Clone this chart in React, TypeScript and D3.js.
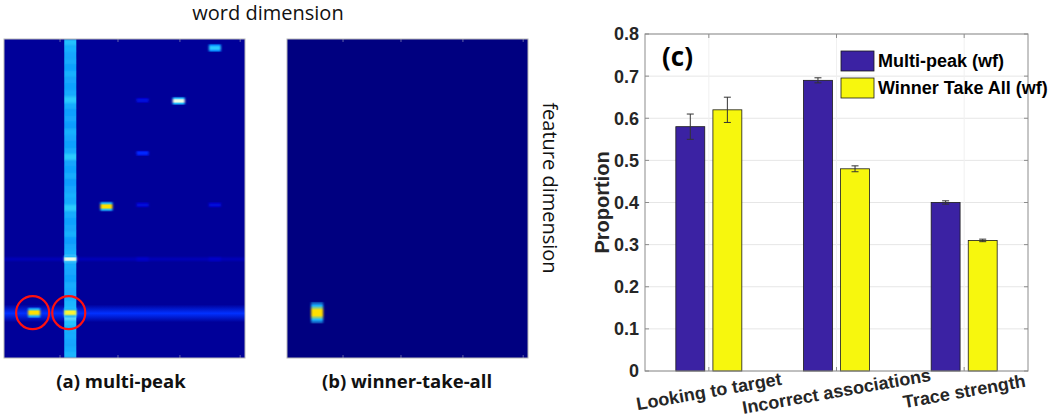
import React from "react";
import * as d3 from "d3";

// ---------- Bar chart data ----------
const categories = ["Looking to target", "Incorrect associations", "Trace strength"];
const seriesNames = ["Multi-peak (wf)", "Winner Take All (wf)"];
const multiPeak = [0.58, 0.69, 0.4];
const multiPeakErr = [0.03, 0.006, 0.004];
const winnerTakeAll = [0.62, 0.48, 0.31];
const winnerTakeAllErr = [0.03, 0.007, 0.003];
const yTicks = [0, 0.1, 0.2, 0.3, 0.4, 0.5, 0.6, 0.7, 0.8];
const seriesColors = ["#3b22a3", "#f7f70d"];

// ---------- Heatmap data ----------
const nWords = 20;
const nFeatures = 100;
const mpBackground = 0.035;
const wtaBackground = 0.0;
const mpColumnWord = 5;
// brightness of the bright word column, one value per 2 feature rows
const mpColumnProfile = [
  0.4, 0.37, 0.35, 0.36, 0.34, 0.37, 0.35, 0.34, 0.36, 0.42,
  0.36, 0.34, 0.35, 0.33, 0.37, 0.35, 0.34, 0.36, 0.42, 0.35,
  0.34, 0.36, 0.33, 0.35, 0.37, 0.36, 0.42, 0.36, 0.34, 0.35,
  0.37, 0.33, 0.35, 0.37, 0.45, 0.36, 0.35, 0.34, 0.36, 0.35,
  0.36, 0.38, 0.4, 0.45, 0.4, 0.37, 0.36, 0.35, 0.36, 0.38,
];
const mpBands = [
  { feature: 86, value: 0.21, height: 5.5 },
  { feature: 69, value: 0.08, height: 2 },
];
const mpSpots = [
  { word: 17, feature: 2.8, value: 0.42, height: 2.6 },
  { word: 14, feature: 19.4, value: 0.53, height: 2.6 },
  { word: 11, feature: 19.2, value: 0.14, height: 1.8 },
  { word: 11, feature: 35.8, value: 0.2, height: 1.8 },
  { word: 8, feature: 52.5, value: 0.64, height: 3.2 },
  { word: 11, feature: 52, value: 0.13, height: 1.8 },
  { word: 17, feature: 52, value: 0.13, height: 1.8 },
  { word: 5, feature: 69, value: 0.53, height: 2.6 },
  { word: 11, feature: 69, value: 0.1, height: 1.8 },
  { word: 17, feature: 69, value: 0.1, height: 1.8 },
  { word: 2, feature: 85.8, value: 0.64, height: 3.4 },
  { word: 5, feature: 85.8, value: 0.6, height: 3.4 },
];
const wtaSpots = [{ word: 2, feature: 85.8, value: 0.64, height: 6.8 }];
const circled = [
  { word: 2, feature: 85.8 },
  { word: 5, feature: 85.8 },
];
const heatTicks = [4.65, 9.46, 14.6, 19.6];

// jet-like colour map as rendered in the figure
const cmapStops = [0, 0.1, 0.2, 0.33, 0.42, 0.52, 0.62, 0.75, 1];
const cmapColors = ["#000080", "#0000c8", "#0028ff", "#0a9cff", "#2ccbff", "#eafcff", "#fff200", "#ff8000", "#ff0000"];
const cmap = d3.scaleLinear<string>().domain(cmapStops).range(cmapColors).clamp(true);

const W = 1050;
const H = 414;

type Spot = { word: number; feature: number; value: number; height: number };

function Heatmap(props: {
  id: string;
  x0: number;
  x1: number;
  y0: number;
  y1: number;
  background: number;
  column?: { word: number; profile: number[] };
  bands?: { feature: number; value: number; height: number }[];
  spots: Spot[];
  circles?: { word: number; feature: number }[];
}) {
  const { id, x0, x1, y0, y1, background, column, bands = [], spots, circles = [] } = props;
  const x = d3.scaleLinear().domain([0, nWords]).range([x0, x1]);
  const y = d3.scaleLinear().domain([0, nFeatures]).range([y0, y1]);
  const cw = x(1) - x(0);
  const edgeOf = (v: number) => (v >= 0.45 ? 0.38 : v * 0.75);
  return (
    <g>
      <defs>
        <clipPath id={`${id}-clip`}>
          <rect x={x0} y={y0} width={x1 - x0} height={y1 - y0} />
        </clipPath>
        <filter id={`${id}-blur`} x="-20%" y="-20%" width="140%" height="140%">
          <feGaussianBlur stdDeviation="0.8 0.6" />
        </filter>
        <filter id={`${id}-colblur`} x="-20%" y="-2%" width="140%" height="104%">
          <feGaussianBlur stdDeviation="0.6 1.0" />
        </filter>
        {bands.map((b, i) => (
          <linearGradient key={i} id={`${id}-band-${i}`} x1="0" y1="0" x2="0" y2="1">
            <stop offset="0" stopColor={cmap(background)} />
            <stop offset="0.5" stopColor={cmap(b.value)} />
            <stop offset="1" stopColor={cmap(background)} />
          </linearGradient>
        ))}
        {spots.map((s, i) => (
          <linearGradient key={i} id={`${id}-spot-${i}`} x1="0" y1="0" x2="0" y2="1">
            <stop offset="0" stopColor={cmap(edgeOf(s.value))} stopOpacity={0.3} />
            <stop offset="0.18" stopColor={cmap(edgeOf(s.value))} />
            <stop offset="0.38" stopColor={cmap(s.value)} />
            <stop offset="0.62" stopColor={cmap(s.value)} />
            <stop offset="0.82" stopColor={cmap(edgeOf(s.value))} />
            <stop offset="1" stopColor={cmap(edgeOf(s.value))} stopOpacity={0.3} />
          </linearGradient>
        ))}
      </defs>
      <rect x={x0} y={y0} width={x1 - x0} height={y1 - y0} fill={cmap(background)} />
      <g clipPath={`url(#${id}-clip)`}>
        {bands.map((b, i) => (
          <rect
            key={i}
            x={x0}
            y={y(b.feature - b.height / 2)}
            width={x1 - x0}
            height={y(b.height) - y(0)}
            fill={`url(#${id}-band-${i})`}
          />
        ))}
        {column && (
          <g filter={`url(#${id}-colblur)`}>
            {column.profile.map((v, i) => (
              <rect
                key={i}
                x={x(column.word)}
                y={y(i * 2)}
                width={cw}
                height={y(2) - y(0) + 0.4}
                fill={cmap(v)}
              />
            ))}
          </g>
        )}
        <g filter={`url(#${id}-blur)`}>
          {spots.map((s, i) => (
            <rect
              key={i}
              x={x(s.word)}
              y={y(s.feature - s.height / 2)}
              width={cw}
              height={y(s.height) - y(0)}
              fill={`url(#${id}-spot-${i})`}
            />
          ))}
        </g>
      </g>
      {heatTicks.map((t, i) => (
        <g key={i} stroke="#7a7ab0" strokeWidth={0.8}>
          <line x1={x(t)} x2={x(t)} y1={y1} y2={y1 - 3} />
          <line x1={x(t)} x2={x(t)} y1={y0} y2={y0 + 3} />
        </g>
      ))}
      <rect x={x0} y={y0} width={x1 - x0} height={y1 - y0} fill="none" stroke="#b8b8b8" strokeWidth={1} />
      {circles.map((c, i) => (
        <circle
          key={i}
          cx={x(c.word + 0.5) - 1.5}
          cy={y(c.feature)}
          r={16.5}
          fill="none"
          stroke="#ff1010"
          strokeWidth={2.2}
        />
      ))}
    </g>
  );
}

function BarChart() {
  const left = 645;
  const right = 1028;
  const top = 34;
  const bottom = 371;
  const x = d3.scaleLinear().domain([0.5, categories.length + 0.5]).range([left, right]);
  const y = d3.scaleLinear().domain([0, 0.8]).range([bottom, top]);
  const inner = d3.scaleBand<number>().domain([0, 1]).range([-33, 33]).paddingInner(0.22);
  const series = [
    { values: multiPeak, errs: multiPeakErr, color: seriesColors[0] },
    { values: winnerTakeAll, errs: winnerTakeAllErr, color: seriesColors[1] },
  ];
  const font = "'Liberation Sans', Arial, sans-serif";
  return (
    <g fontFamily={font} fontWeight="bold">
      <rect x={left} y={top} width={right - left} height={bottom - top} fill="#ffffff" />
      {yTicks.map((t) => (
        <line key={t} x1={left} x2={right} y1={y(t)} y2={y(t)} stroke="#e6e6e6" strokeWidth={1} />
      ))}
      {categories.map((c, i) => (
        <line key={c} x1={x(i + 1)} x2={x(i + 1)} y1={top} y2={bottom} stroke="#f0f0f0" strokeWidth={1} />
      ))}
      {series.map((s, si) =>
        s.values.map((v, i) => {
          const bx = x(i + 1) + (inner(si) as number);
          return (
            <rect
              key={`${si}-${i}`}
              x={bx}
              y={y(v)}
              width={inner.bandwidth()}
              height={y(0) - y(v)}
              fill={s.color}
              stroke="#1a1a1a"
              strokeWidth={0.8}
            />
          );
        })
      )}
      {series.map((s, si) =>
        s.values.map((v, i) => {
          const cx = x(i + 1) + (inner(si) as number) + inner.bandwidth() / 2;
          const e = s.errs[i];
          return (
            <g key={`e-${si}-${i}`} stroke="#333333" strokeWidth={1}>
              <line x1={cx} x2={cx} y1={y(v + e)} y2={y(v - e)} />
              <line x1={cx - 3.5} x2={cx + 3.5} y1={y(v + e)} y2={y(v + e)} />
              <line x1={cx - 3.5} x2={cx + 3.5} y1={y(v - e)} y2={y(v - e)} />
            </g>
          );
        })
      )}
      {/* axes box */}
      <rect x={left} y={top} width={right - left} height={bottom - top} fill="none" stroke="#8c8c8c" strokeWidth={1} />
      {yTicks.map((t) => (
        <g key={t} stroke="#8c8c8c" strokeWidth={1}>
          <line x1={left} x2={left + 4} y1={y(t)} y2={y(t)} />
          <line x1={right} x2={right - 4} y1={y(t)} y2={y(t)} />
        </g>
      ))}
      {categories.map((c, i) => (
        <g key={c} stroke="#8c8c8c" strokeWidth={1}>
          <line x1={x(i + 1)} x2={x(i + 1)} y1={bottom} y2={bottom - 4} />
          <line x1={x(i + 1)} x2={x(i + 1)} y1={top} y2={top + 4} />
        </g>
      ))}
      {yTicks.map((t) => (
        <text key={t} x={left - 6} y={y(t)} dy="0.36em" textAnchor="end" fontSize={18} fill="#262626">
          {d3.format(".1~f")(t)}
        </text>
      ))}
      {categories.map((c, i) => (
        <text
          key={c}
          transform={`translate(${x(i + 1)},${bottom + 20}) rotate(-10)`}
          dy="0.36em"
          textAnchor="middle"
          fontSize={18}
          fill="#262626"
        >
          {c}
        </text>
      ))}
      <text
        transform={`translate(${left - 43},${(top + bottom) / 2}) rotate(-90)`}
        dy="0.36em"
        textAnchor="middle"
        fontSize={20}
        fill="#262626"
      >
        Proportion
      </text>
      <text x={662} y={66} fontSize={26} fontFamily="'Open Sans', sans-serif" fontWeight="bold" fill="#000">
        (c)
      </text>
      {seriesNames.map((n, i) => (
        <g key={n}>
          <rect x={841} y={51 + i * 27} width={33} height={20} fill={seriesColors[i]} stroke="#1a1a1a" strokeWidth={0.8} />
          <text x={878} y={61 + i * 27} dy="0.36em" fontSize={18} fill="#000">
            {n}
          </text>
        </g>
      ))}
    </g>
  );
}

export default function App() {
  const labelFont = "'Open Sans', sans-serif";
  return (
    <svg
      width={W}
      height={H}
      viewBox={`0 0 ${W} ${H}`}
      style={{ position: "absolute", left: 0, top: 0, background: "#ffffff" }}
    >
      <rect width={W} height={H} fill="#ffffff" />
      <Heatmap
        id="mp"
        x0={4}
        x1={245}
        y0={39}
        y1={358}
        background={mpBackground}
        column={{ word: mpColumnWord, profile: mpColumnProfile }}
        bands={mpBands}
        spots={mpSpots}
        circles={circled}
      />
      <Heatmap id="wta" x0={287} x1={528} y0={39} y1={358} background={wtaBackground} spots={wtaSpots} />
      <text x={268} y={20} textAnchor="middle" fontFamily={labelFont} fontSize={20} fill="#111">
        word dimension
      </text>
      <text
        transform="translate(550,188) rotate(90)"
        dy="0.36em"
        textAnchor="middle"
        fontFamily={labelFont}
        fontSize={20}
        fill="#111"
      >
        feature dimension
      </text>
      <text x={121} y={388} textAnchor="middle" fontFamily={labelFont} fontWeight="bold" fontSize={18.5} fill="#111">
        (a) multi-peak
      </text>
      <text x={407} y={388} textAnchor="middle" fontFamily={labelFont} fontWeight="bold" fontSize={18.5} fill="#111">
        (b) winner-take-all
      </text>
      <BarChart />
    </svg>
  );
}
